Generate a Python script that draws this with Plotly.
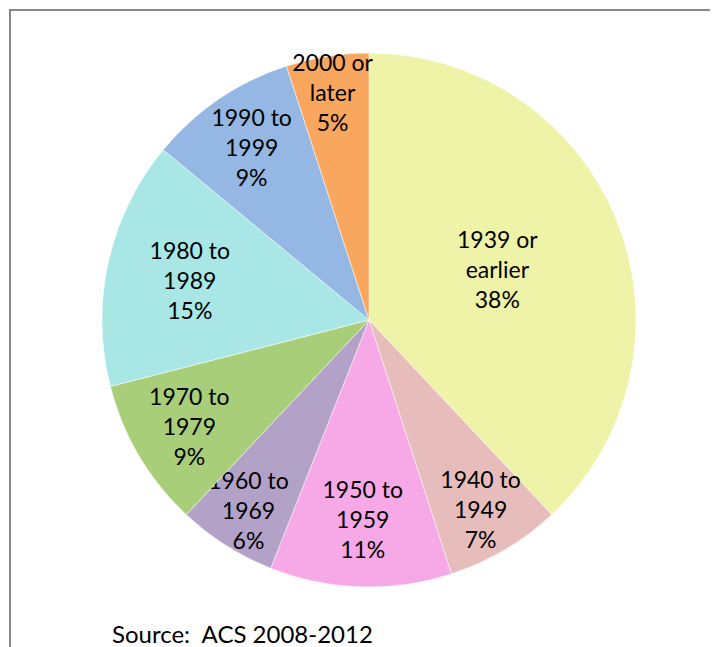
import plotly.graph_objects as go

categories = ["1939 or<br>earlier", "1940 to<br>1949", "1950 to<br>1959", "1960 to<br>1969",
              "1970 to<br>1979", "1980 to<br>1989", "1990 to<br>1999", "2000 or<br>later"]
values = [38, 7, 11, 6, 9, 15, 9, 5]
colors = ["#EEF3A8", "#E6BDBB", "#F6A9E6", "#B3A2C8", "#A9CE7A", "#A9E6E6", "#95B7E3", "#F9A65F"]

W, H = 718, 647
off = 8  # page body margin
cx, cy, r = 369 - off, 320 - off, 267

fig = go.Figure(go.Pie(
    labels=categories,
    values=values,
    sort=False,
    direction="clockwise",
    rotation=0,
    marker=dict(colors=colors, line=dict(color="white", width=0.5)),
    texttemplate="%{label}<br>%{value}%",
    textposition="inside",
    insidetextorientation="horizontal",
    textfont=dict(family="Lato", size=23, color="black"),
    showlegend=False,
    hoverinfo="none",
    domain=dict(x=[(cx - r) / W, (cx + r) / W], y=[1 - (cy + r) / H, 1 - (cy - r) / H]),
))

fig.add_shape(type="rect", xref="paper", yref="paper",
              x0=(10 - off) / W, x1=1.05, y0=-0.05, y1=1 - (10 - off) / H,
              line=dict(color="#888888", width=2))

fig.add_annotation(text="Source:  ACS 2008-2012", xref="paper", yref="paper",
                   x=(110 - off) / W, y=1 - (633 - off) / H, xanchor="left", yanchor="middle",
                   showarrow=False, font=dict(family="Lato", size=24, color="black"))

fig.update_layout(width=W, height=H, margin=dict(l=0, r=0, t=0, b=0),
                  paper_bgcolor="white", plot_bgcolor="white",
                  uniformtext=dict(minsize=23, mode="show"))

fig.write_html("out.html")
